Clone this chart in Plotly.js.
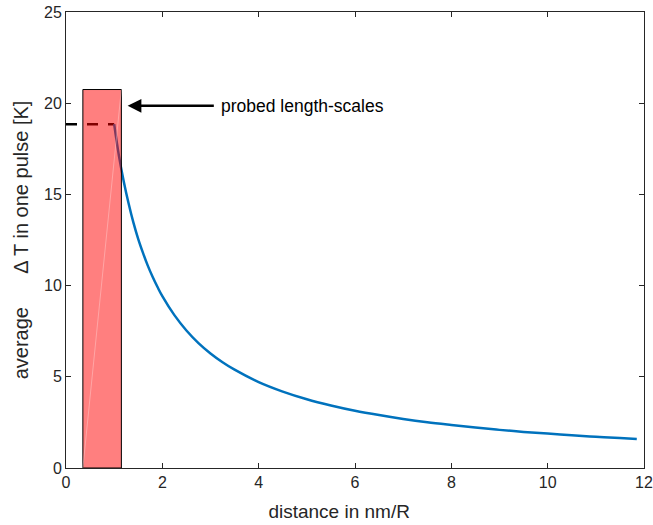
<!DOCTYPE html>
<html>
<head>
<meta charset="utf-8">
<script src="https://cdn.plot.ly/plotly-3.0.1.min.js"></script>
<style>html,body{margin:0;padding:0;background:#fff;}#chart{width:653px;height:525px;}</style>
</head>
<body>
<div id="chart"></div>
<script>
// Decay curve of the average temperature rise vs distance
const curveX = [1.0, 1.1, 1.2, 1.3, 1.4, 1.5, 1.6, 1.7, 1.8, 1.9, 2.0, 2.25, 2.5, 2.75, 3.0, 3.25, 3.5, 4.0, 4.5, 5.0, 5.5, 6.0, 6.5, 7.0, 7.5, 8.0, 8.5, 9.0, 9.5, 10.0, 10.5, 11.0, 11.5, 11.85];
const curveY = [18.85, 17.1, 15.7, 14.5, 13.45, 12.55, 11.78, 11.08, 10.47, 9.92, 9.42, 8.38, 7.54, 6.85, 6.28, 5.8, 5.39, 4.71, 4.19, 3.77, 3.43, 3.14, 2.9, 2.69, 2.51, 2.36, 2.22, 2.09, 1.98, 1.885, 1.8, 1.71, 1.64, 1.59];
// Plateau (dashed) inside the core
const plateauX = [0, 1.0];
const plateauY = [18.85, 18.85];
// Probed length-scale region
const probeX = [0.35, 1.15];
const probeTop = 20.75;
// Arrow annotation
const arrowTip = [1.28, 19.86];
const arrowTail = [3.1, 19.86];
const arrowLabel = "probed length-scales";
// Axes
const xTicks = [0, 2, 4, 6, 8, 10, 12];
const yTicks = [0, 5, 10, 15, 20, 25];

const FONT = "Liberation Sans, Arial, sans-serif";
const AX = "#262626";

const traces = [
  {x: plateauX, y: plateauY, mode: "lines", line: {color: "#000", width: 2.5, dash: "11px,10px"}, hoverinfo: "skip"},
  {x: curveX, y: curveY, mode: "lines", line: {color: "#0072BD", width: 2.5, shape: "spline", smoothing: 1}, hoverinfo: "skip"},
  {x: [probeX[0], probeX[1], probeX[1], probeX[0], probeX[0]], y: [0, 0, probeTop, probeTop, 0], mode: "lines", fill: "toself", fillcolor: "rgba(255,0,0,0.5)", line: {color: "#000", width: 1}, hoverinfo: "skip"},
  {x: [probeX[0], probeX[1]], y: [0, probeTop], mode: "lines", line: {color: "rgba(255,255,255,0.3)", width: 1}, hoverinfo: "skip"}
];

const axisCommon = {
  showline: true, linecolor: AX, linewidth: 1, mirror: "ticks",
  ticks: "inside", ticklen: 5, tickwidth: 1, tickcolor: AX,
  showgrid: false, zeroline: false, ticklabeloverflow: "allow",
  tickfont: {family: FONT, size: 16, color: AX}
};

const NB = "\u00A0";
const ZW = "\u200B";
const layout = {
  width: 653, height: 525,
  margin: {l: 66, r: 9, t: 12, b: 57, pad: 0},
  paper_bgcolor: "#fff", plot_bgcolor: "#fff",
  showlegend: false,
  xaxis: Object.assign({}, axisCommon, {
    range: [0, 12], tickvals: xTicks, ticktext: xTicks.map(String),
    title: {text: "distance in nm/R" + NB.repeat(6) + ZW, font: {family: FONT, size: 19, color: AX}, standoff: 14}
  }),
  yaxis: Object.assign({}, axisCommon, {
    range: [0, 25], tickvals: yTicks, ticktext: yTicks.map(String),
    title: {text: "average" + NB.repeat(6) + "\u0394 T in one pulse [K]", font: {family: FONT, size: 20, color: AX}, standoff: 10}
  }),
  annotations: [
    {x: arrowTip[0], y: arrowTip[1], ax: arrowTail[0], ay: arrowTail[1], axref: "x", ayref: "y", xref: "x", yref: "y",
     text: "", showarrow: true, arrowhead: 2, arrowsize: 1.1, arrowwidth: 2.5, arrowcolor: "#000"},
    {x: arrowTail[0], y: arrowTail[1], xref: "x", yref: "y", text: arrowLabel, showarrow: false,
     xanchor: "left", xshift: 4, font: {family: FONT, size: 17.5, color: "#000"}}
  ]
};

Plotly.newPlot("chart", traces, layout, {staticPlot: true, displayModeBar: false});
</script>
</body>
</html>
